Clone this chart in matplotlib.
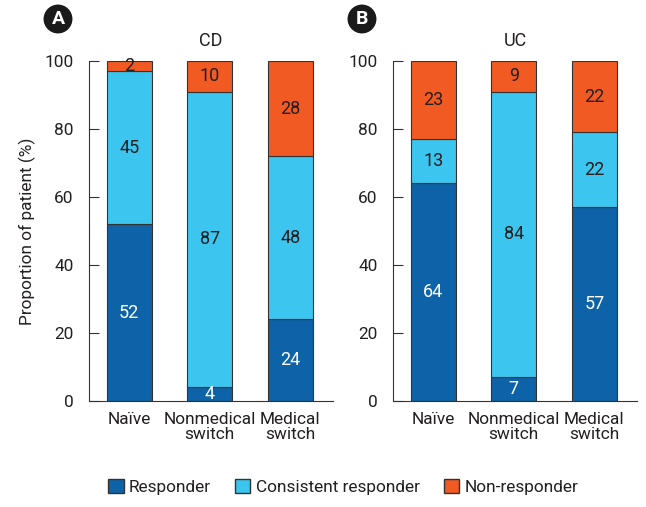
import matplotlib.pyplot as plt
from matplotlib.patches import Patch

plt.rcParams['font.family'] = ['Roboto', 'DejaVu Sans']

# Data (percent of patients)
groups = ['Naïve', 'Nonmedical\nswitch', 'Medical\nswitch']
cd_responder = [52, 4, 24]
cd_consistent = [45, 87, 48]
cd_nonresponder = [2, 10, 28]
uc_responder = [64, 7, 57]
uc_consistent = [13, 84, 22]
uc_nonresponder = [23, 9, 22]

c_resp = '#0e63a8'
c_cons = '#3cc5ee'
c_non = '#f15a22'
txt = '#231f20'
fs = 12.4

fig = plt.figure(figsize=(6.46, 5.07), dpi=100)
ax_a = fig.add_axes([89/646, 106/507, 244/646, 340/507])
ax_b = fig.add_axes([393/646, 106/507, 244/646, 340/507])

def draw_panel(ax, resp, cons, non, title):
    x = range(len(groups))
    w = 0.56
    bot2 = [r + c for r, c in zip(resp, cons)]
    # top segment fills the bar up to 100 %
    top = [100 - b for b in bot2]
    ax.bar(x, resp, w, color=c_resp, edgecolor='#333333', linewidth=0.8)
    ax.bar(x, cons, w, bottom=resp, color=c_cons, edgecolor='#333333', linewidth=0.8)
    ax.bar(x, top, w, bottom=bot2, color=c_non, edgecolor='#333333', linewidth=0.8)
    for i in x:
        ax.text(i, resp[i] / 2, str(resp[i]), ha='center', va='center',
                color='white', fontsize=13)
        ax.text(i, resp[i] + cons[i] / 2, str(cons[i]), ha='center', va='center',
                color=txt, fontsize=13)
        ax.text(i, bot2[i] + top[i] / 2, str(non[i]), ha='center', va='center',
                color=txt, fontsize=13)
    ax.set_xlim(-0.5, 2.53)
    ax.set_ylim(0, 100)
    ax.set_yticks(range(0, 101, 20))
    ax.set_xticks(list(x))
    ax.set_xticklabels(groups, fontsize=fs, color=txt, linespacing=0.95)
    ax.tick_params(axis='y', direction='in', length=7, width=0.8, pad=11,
                   labelsize=fs, labelcolor=txt, color='#333333')
    ax.tick_params(axis='x', length=0, pad=8)
    for s in ['top', 'right']:
        ax.spines[s].set_visible(False)
    for s in ['left', 'bottom']:
        ax.spines[s].set_linewidth(0.8)
        ax.spines[s].set_color('#333333')
    ax.set_title(title, fontsize=13, color=txt, pad=11)

draw_panel(ax_a, cd_responder, cd_consistent, cd_nonresponder, 'CD')
draw_panel(ax_b, uc_responder, uc_consistent, uc_nonresponder, 'UC')
ax_a.set_ylabel('Proportion of patient (%)', fontsize=fs, color=txt, labelpad=6)

# panel letters in black circles
for lx, letter in [(58, 'A'), (362, 'B')]:
    fig.text(lx/646, 1 - 19/507, letter, ha='center', va='center', color='white',
             fontsize=14, fontweight='bold',
             bbox=dict(boxstyle='circle,pad=0.28', fc='#1a1a1a', ec='none'))

handles = [Patch(facecolor=c_resp, edgecolor='#333333', label='Responder'),
           Patch(facecolor=c_cons, edgecolor='#333333', label='Consistent responder'),
           Patch(facecolor=c_non, edgecolor='#333333', label='Non-responder')]
fig.legend(handles=handles, loc='center', bbox_to_anchor=(343/646, 1 - 487/507),
           ncol=3, frameon=False, fontsize=fs, handlelength=0.9, handleheight=0.9,
           handletextpad=0.3, columnspacing=1.4, labelcolor=txt)

fig.savefig('out.png', dpi=100)
